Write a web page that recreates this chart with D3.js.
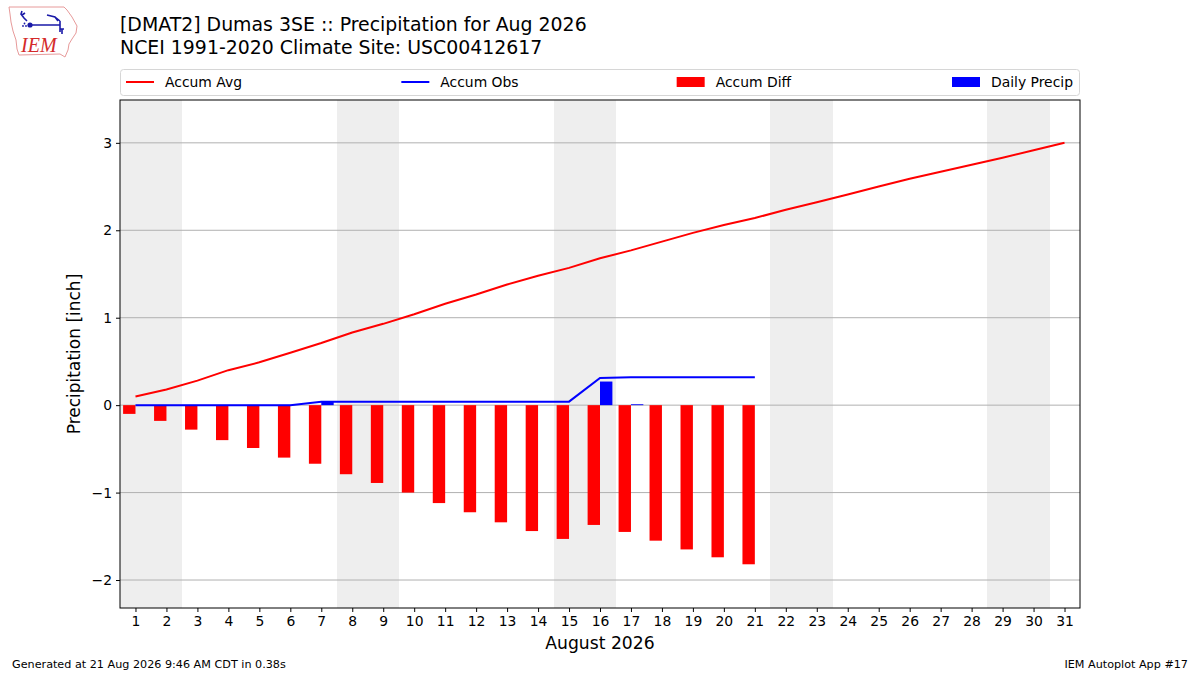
<!DOCTYPE html>
<html>
<head>
<meta charset="utf-8">
<script src="https://cdn.jsdelivr.net/npm/d3@7"></script>
<style>
  body { margin: 0; background: #fff; }
  svg { font-family: "DejaVu Sans", sans-serif; }
</style>
</head>
<body>
<svg id="chart" width="1200" height="675"></svg>
<script>
// values (inches)
const days = [1, 2, 3, 4, 5, 6, 7, 8, 9, 10, 11, 12, 13, 14, 15, 16,
  17, 18, 19, 20, 21, 22, 23, 24, 25, 26, 27, 28, 29, 30, 31];
const accumAvg = [0.10, 0.18, 0.28, 0.40, 0.49, 0.60, 0.71, 0.83, 0.93, 1.04,
  1.16, 1.265, 1.38, 1.48, 1.57, 1.68, 1.77, 1.87, 1.97, 2.06, 2.14, 2.235,
  2.32, 2.41, 2.50, 2.59, 2.67, 2.75, 2.83, 2.915, 3.00];
const obsDays = [1, 2, 3, 4, 5, 6, 7, 8, 9, 10, 11, 12, 13, 14, 15, 16,
  17, 18, 19, 20, 21];
const accumObs = [0, 0, 0, 0, 0, 0, 0.04, 0.04, 0.04, 0.04, 0.04, 0.04, 0.04,
  0.04, 0.04, 0.31, 0.32, 0.32, 0.32, 0.32, 0.32];
const accumDiff = [-0.10, -0.18, -0.28, -0.40, -0.49, -0.60, -0.67, -0.79,
  -0.89, -1.00, -1.12, -1.225, -1.34, -1.44, -1.53, -1.37, -1.45, -1.55,
  -1.65, -1.74, -1.82];
const dailyPrecip = [0, 0, 0, 0, 0, 0, 0.04, 0, 0, 0, 0, 0, 0, 0, 0, 0.27,
  0.01, 0, 0, 0, 0];
const weekendDays = [1, 2, 8, 9, 15, 16, 22, 23, 29, 30];
const yTicks = [-2, -1, 0, 1, 2, 3];

const width = 1200,
  height = 675,
  marginTop = 100,
  marginRight = 120,
  marginBottom = 67,
  marginLeft = 120;

const svg = d3.select("#chart");

const x = d3.scaleLinear()
  .domain([0.5, 31.5])
  .range([marginLeft, width - marginRight]);

const y = d3.scaleLinear()
  .domain([-2.32, 3.49])
  .range([height - marginBottom, marginTop]);

const barW = x(0.4) - x(0);

// weekend shading
svg.append("g")
  .attr("shape-rendering", "crispEdges")
  .selectAll("rect")
  .data(weekendDays)
  .join("rect")
  .attr("x", d => x(d - 0.5))
  .attr("width", x(1) - x(0) + 0.5)
  .attr("y", marginTop)
  .attr("height", height - marginBottom - marginTop)
  .attr("fill", "#eeeeee");

// horizontal grid
svg.append("g")
  .selectAll("line")
  .data(yTicks)
  .join("line")
  .attr("x1", marginLeft)
  .attr("x2", width - marginRight)
  .attr("y1", d => y(d))
  .attr("y2", d => y(d))
  .attr("stroke", "#b0b0b0")
  .attr("stroke-width", 1);

// accumulated difference bars (left of the day)
svg.append("g")
  .attr("fill", "red")
  .selectAll("rect")
  .data(accumDiff)
  .join("rect")
  .attr("x", (d, i) => x(obsDays[i]) - barW)
  .attr("width", barW)
  .attr("y", d => y(Math.max(0, d)))
  .attr("height", d => Math.abs(y(d) - y(0)));

// daily precip bars (right of the day)
svg.append("g")
  .attr("fill", "blue")
  .selectAll("rect")
  .data(dailyPrecip)
  .join("rect")
  .attr("x", (d, i) => x(obsDays[i]))
  .attr("width", barW)
  .attr("y", d => y(d))
  .attr("height", d => y(0) - y(d));

const line = d3.line()
  .x(d => x(d[0]))
  .y(d => y(d[1]));

svg.append("path")
  .attr("fill", "none")
  .attr("stroke", "red")
  .attr("stroke-width", 2)
  .attr("d", line(days.map((d, i) => [d, accumAvg[i]])));

svg.append("path")
  .attr("fill", "none")
  .attr("stroke", "blue")
  .attr("stroke-width", 2)
  .attr("d", line(obsDays.map((d, i) => [d, accumObs[i]])));

// axes
const xAxis = d3.axisBottom(x)
  .tickValues(days)
  .tickFormat(d3.format("d"))
  .tickSizeOuter(0)
  .tickSize(4)
  .tickPadding(4);

const yAxis = d3.axisLeft(y)
  .tickValues(yTicks)
  .tickFormat(d => d < 0 ? "\u2212" + Math.abs(d) : d)
  .tickSizeOuter(0)
  .tickSize(4)
  .tickPadding(4);

const gx = svg.append("g")
  .attr("transform", `translate(0,${height - marginBottom})`)
  .call(xAxis);
const gy = svg.append("g")
  .attr("transform", `translate(${marginLeft},0)`)
  .call(yAxis);

[gx, gy].forEach(g => {
  g.select(".domain").remove();
  g.selectAll("text")
    .attr("font-family", "DejaVu Sans")
    .attr("font-size", 13.9)
    .attr("fill", "#000");
  g.selectAll("line").attr("stroke", "#000");
});

// plot frame
svg.append("rect")
  .attr("x", marginLeft)
  .attr("y", marginTop)
  .attr("width", width - marginLeft - marginRight)
  .attr("height", height - marginTop - marginBottom)
  .attr("fill", "none")
  .attr("stroke", "#000")
  .attr("stroke-width", 1);

// axis labels
svg.append("text")
  .attr("x", (marginLeft + width - marginRight) / 2)
  .attr("y", 649)
  .attr("text-anchor", "middle")
  .attr("font-size", 17.2)
  .text("August 2026");

svg.append("text")
  .attr("transform", `translate(80,${(marginTop + height - marginBottom) / 2}) rotate(-90)`)
  .attr("text-anchor", "middle")
  .attr("font-size", 17)
  .text("Precipitation [inch]");

// titles
svg.append("text")
  .attr("x", 120)
  .attr("y", 31)
  .attr("font-size", 18.9)
  .text("[DMAT2] Dumas 3SE :: Precipitation for Aug 2026");
svg.append("text")
  .attr("x", 120)
  .attr("y", 54)
  .attr("font-size", 18.9)
  .text("NCEI 1991-2020 Climate Site: USC00412617");

// legend
const legendItems = [
  { label: "Accum Avg", color: "red", type: "line" },
  { label: "Accum Obs", color: "blue", type: "line" },
  { label: "Accum Diff", color: "red", type: "patch" },
  { label: "Daily Precip", color: "blue", type: "patch" },
];
const legend = svg.append("g");
legend.append("rect")
  .attr("x", marginLeft + 0.5)
  .attr("y", 69.5)
  .attr("width", width - marginLeft - marginRight - 1)
  .attr("height", 26)
  .attr("rx", 3)
  .attr("fill", "#fff")
  .attr("stroke", "#d6d6d6");

const colX = d3.scalePoint()
  .domain(legendItems.map(d => d.label))
  .range([126, 952]);

const item = legend.selectAll("g.item")
  .data(legendItems)
  .join("g")
  .attr("class", "item")
  .attr("transform", d => `translate(${colX(d.label)},82)`);

item.filter(d => d.type === "line")
  .append("line")
  .attr("x1", 0).attr("x2", 28)
  .attr("stroke", d => d.color)
  .attr("stroke-width", 2);
item.filter(d => d.type === "patch")
  .append("rect")
  .attr("x", 0).attr("y", -5)
  .attr("width", 28).attr("height", 10)
  .attr("fill", d => d.color);
item.append("text")
  .attr("x", 39)
  .attr("y", 5)
  .attr("font-size", 13.9)
  .text(d => d.label);

// footer
svg.append("text")
  .attr("x", 12)
  .attr("y", 668)
  .attr("font-size", 11.2)
  .text("Generated at 21 Aug 2026 9:46 AM CDT in 0.38s");
svg.append("text")
  .attr("x", 1188)
  .attr("y", 668)
  .attr("text-anchor", "end")
  .attr("font-size", 11.2)
  .text("IEM Autoplot App #17");

// IEM logo (rough Iowa outline)
const logo = svg.append("g");
logo.append("path")
  .attr("d", "M9,7 L64,7 L67,10 L72,17 L77,26 L76,33 L72,39 L69,44 L68,50 L65,57 L60,54 L19,55 L17,49 L16,40 L13,31 L11,22 L10,14 Z")
  .attr("fill", "#fff")
  .attr("stroke", "#e79a9a")
  .attr("stroke-width", 1);
logo.append("path")
  .attr("d", "M22,11 L21,14 L24,18 L27,21 M22,15 L25,13 M30,25 L60,25 M47,15 L55,17 L58,21 M55,17 L60,21 M60,21 L60,32 M60,29 L64,29 M62,29 L62,34")
  .attr("fill", "none")
  .attr("stroke", "#1a1aa8")
  .attr("stroke-width", 1.6);
logo.append("circle")
  .attr("cx", 30).attr("cy", 25).attr("r", 2.6)
  .attr("fill", "#1a1aa8");
logo.selectAll("circle.dot")
  .data([[23, 26], [26, 26], [24.5, 23.5]])
  .join("circle")
  .attr("class", "dot")
  .attr("cx", d => d[0]).attr("cy", d => d[1]).attr("r", 0.9)
  .attr("fill", "#1a1aa8");
logo.append("text")
  .attr("x", 21)
  .attr("y", 52)
  .attr("font-family", "Liberation Serif")
  .attr("font-style", "italic")
  .attr("font-size", 20)
  .attr("fill", "#d42a2a")
  .text("IEM");
</script>
</body>
</html>
